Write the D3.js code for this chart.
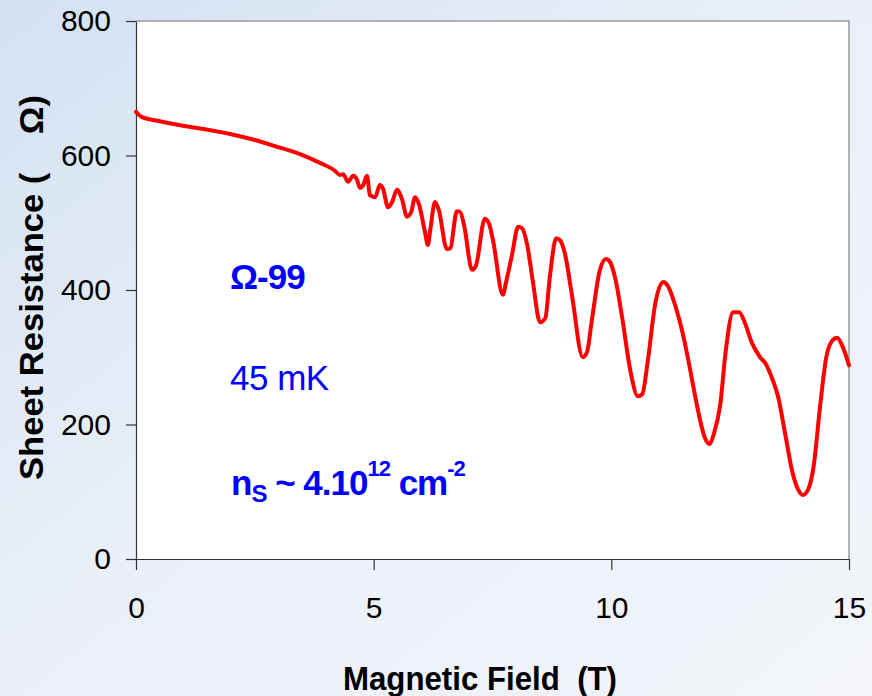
<!DOCTYPE html>
<html>
<head>
<meta charset="utf-8">
<script src="https://cdn.jsdelivr.net/npm/d3@7"></script>
<style>
  html, body { margin: 0; padding: 0; }
  body { width: 872px; height: 696px; overflow: hidden; }
  text { font-family: "Liberation Sans", Arial, sans-serif; }
</style>
</head>
<body>
<svg id="chart" width="872" height="696"></svg>
<script>
// ---- data ----
const fieldT = [0, 0.04, 0.13, 0.50, 0.93, 1.45, 1.98, 2.50, 2.92, 3.45, 3.87, 4.19, 4.29, 4.36, 4.46, 4.57, 4.65, 4.71, 4.78, 4.86, 4.92, 5.03, 5.13, 5.20, 5.30, 5.39, 5.49, 5.60, 5.70, 5.79, 5.87, 5.95, 6.08, 6.14, 6.19, 6.29, 6.37, 6.54, 6.61, 6.75, 6.82, 6.90, 7.07, 7.15, 7.34, 7.43, 7.51, 7.72, 7.78, 7.91, 8.04, 8.12, 8.23, 8.35, 8.50, 8.61, 8.71, 8.84, 8.92, 9.03, 9.17, 9.40, 9.49, 9.59, 9.76, 9.89, 9.97, 10.08, 10.23, 10.39, 10.56, 10.65, 10.77, 10.92, 11.09, 11.19, 11.34, 11.51, 11.66, 11.80, 11.97, 12.06, 12.16, 12.29, 12.41, 12.56, 12.69, 12.81, 12.96, 13.13, 13.25, 13.38, 13.51, 13.65, 13.80, 13.93, 14.03, 14.14, 14.26, 14.39, 14.52, 14.64, 14.75, 14.87, 15.0];
const sheetResistance = [665, 662, 657, 651, 645, 639, 632, 623, 614, 602, 589, 577, 571, 572, 561, 570, 564, 552, 556, 570, 541, 538, 556, 550, 523, 531, 549, 534, 509, 516, 538, 528, 486, 467, 489, 531, 519, 461, 462, 517, 516, 497, 430, 436, 506, 498, 474, 393, 410, 452, 494, 492, 467, 412, 352, 358, 422, 477, 474, 452, 393, 300, 308, 355, 430, 446, 442, 418, 358, 284, 242, 245, 296, 378, 412, 406, 378, 333, 281, 229, 180, 171, 187, 229, 311, 367, 367, 351, 321, 300, 290, 269, 241, 189, 132, 103, 95, 103, 140, 226, 299, 324, 329, 315, 288];
const xTicks = [0, 5, 10, 15];
const yTicks = [0, 200, 400, 600, 800];
const xLabel = "Magnetic Field\u00a0\u00a0(T)";
const yLabel = "Sheet Resistance (\u00a0\u00a0\u00a0\u00a0Ω)";

const svg = d3.select("#chart");
const W = 872, H = 696;
const m = { left: 136, right: 849, top: 21, bottom: 559 };

// background gradient
const defs = svg.append("defs");
const g1 = defs.append("linearGradient").attr("id", "bg")
  .attr("x1", "0").attr("y1", "0").attr("x2", "1").attr("y2", "1");
g1.append("stop").attr("offset", "0").attr("stop-color", "#d3e1f2");
g1.append("stop").attr("offset", "0.45").attr("stop-color", "#e9eff8");
g1.append("stop").attr("offset", "1").attr("stop-color", "#f3f5fa");
svg.append("rect").attr("width", W).attr("height", H).attr("fill", "url(#bg)");

const x = d3.scaleLinear().domain([0, 15]).range([m.left, m.right]);
const y = d3.scaleLinear().domain([0, 800]).range([m.bottom, m.top]);

// plot area
svg.append("rect")
  .attr("x", m.left).attr("y", m.top)
  .attr("width", m.right - m.left).attr("height", m.bottom - m.top)
  .attr("fill", "#ffffff");
// top/right frame
svg.append("path")
  .attr("d", `M${m.left},${m.top}H${m.right}V${m.bottom}`)
  .attr("fill", "none").attr("stroke", "#9a9a9a").attr("stroke-width", 1.5);

// axes
const yAxis = svg.append("g").attr("transform", `translate(${m.left},0)`)
  .call(d3.axisLeft(y).tickValues(yTicks).tickSize(10).tickPadding(15).tickSizeOuter(0));
const xAxis = svg.append("g").attr("transform", `translate(0,${m.bottom})`)
  .call(d3.axisBottom(x).tickValues(xTicks).tickSize(11).tickPadding(27).tickSizeOuter(0));
[yAxis, xAxis].forEach(a => {
  a.select(".domain").attr("stroke", "#333").attr("stroke-width", 1.2);
  a.selectAll(".tick line").attr("stroke", "#333").attr("stroke-width", 1.2);
  a.selectAll(".tick text").attr("fill", "#000").attr("font-size", 30)
    .attr("font-family", "'Liberation Sans', Arial, sans-serif");
});

// data line
const line = d3.line().x((d, i) => x(fieldT[i])).y(d => y(d)).curve(d3.curveMonotoneX);
svg.append("path")
  .datum(sheetResistance)
  .attr("d", line)
  .attr("fill", "none")
  .attr("stroke", "#ff0000")
  .attr("stroke-width", 4)
  .attr("stroke-linejoin", "round")
  .attr("stroke-linecap", "round");

// axis titles
svg.append("text")
  .attr("x", 343).attr("y", 690)
  .attr("font-size", 34).attr("font-weight", "bold")
  .attr("fill", "#000")
  .attr("textLength", 274).attr("lengthAdjust", "spacingAndGlyphs")
  .text(xLabel);
svg.append("text")
  .attr("transform", "translate(43,480) rotate(-90)")
  .attr("font-size", 34).attr("font-weight", "bold")
  .attr("fill", "#000")
  .attr("textLength", 385).attr("lengthAdjust", "spacingAndGlyphs")
  .text(yLabel);

// annotations
const blue = "#0000ff";
svg.append("text").attr("x", 230).attr("y", 289)
  .attr("font-size", 35).attr("font-weight", "bold").attr("fill", blue)
  .attr("letter-spacing", -1)
  .text("Ω-99");
svg.append("text").attr("x", 230).attr("y", 390)
  .attr("font-size", 35).attr("fill", blue)
  .attr("letter-spacing", -0.5)
  .text("45 mK");
const ns = svg.append("text").attr("x", 231).attr("y", 495)
  .attr("font-size", 35).attr("font-weight", "bold").attr("fill", blue)
  .attr("letter-spacing", -1);
ns.append("tspan").text("n");
ns.append("tspan").attr("font-size", 24).attr("dy", 7).text("S");
ns.append("tspan").attr("dy", -7).text(" ~ 4.10");
ns.append("tspan").attr("font-size", 22).attr("dy", -19).text("12");
ns.append("tspan").attr("dy", 19).text(" cm");
ns.append("tspan").attr("font-size", 22).attr("dy", -19).text("-2");
</script>
</body>
</html>
